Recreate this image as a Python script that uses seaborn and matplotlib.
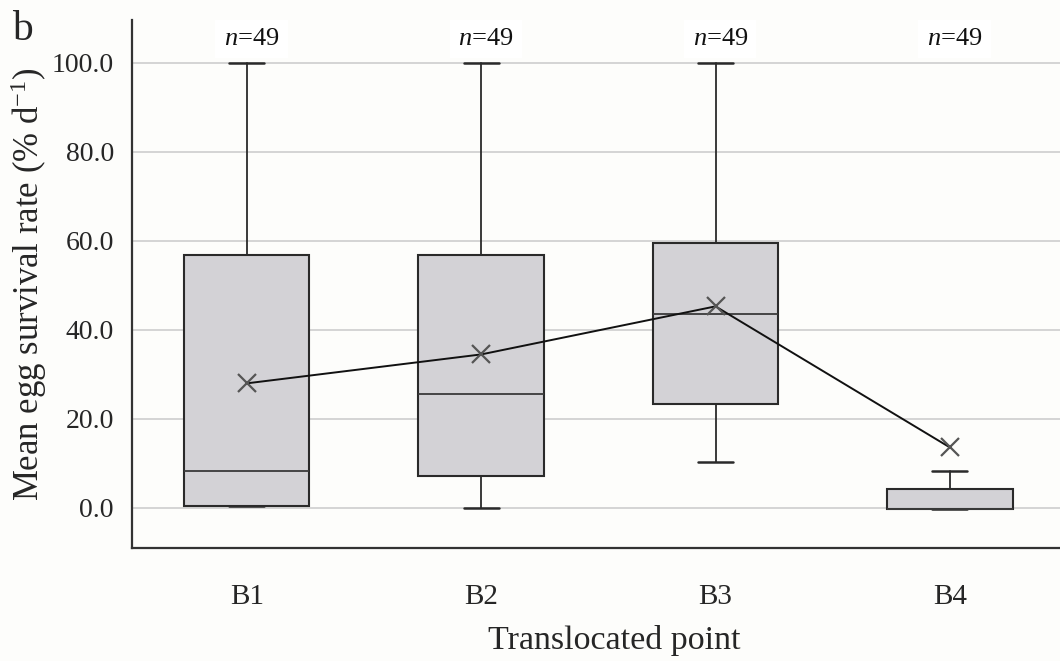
import numpy as np
import pandas as pd
import matplotlib
matplotlib.use("Agg")
import matplotlib.pyplot as plt
import seaborn as sns

# Summary statistics per translocated point (% d^-1)
points = ["B1", "B2", "B3", "B4"]
whisker_low = [0.5, 0.0, 10.3, -0.2]
q1 = [0.5, 7.1, 23.4, -0.2]
median = [8.3, 25.7, 43.6, -0.2]
q3 = [56.8, 56.8, 59.5, 4.3]
whisker_high = [100.0, 100.0, 100.0, 8.2]
means = [28.0, 34.5, 45.3, 13.6]
n_obs = [49, 49, 49, 49]
y_ticks = [0.0, 20.0, 40.0, 60.0, 80.0, 100.0]

sns.set_theme(style="white")
plt.rcParams["font.family"] = ["Liberation Serif", "DejaVu Serif"]
plt.rcParams["mathtext.fontset"] = "custom"
plt.rcParams["mathtext.it"] = "Liberation Serif:italic"
plt.rcParams["mathtext.rm"] = "Liberation Serif"

bg = "#fdfdfb"
fig = plt.figure(figsize=(10.6, 6.61), dpi=100, facecolor=bg)
ax = fig.add_axes([0.1245, 0.171, 0.8755, 0.799])
ax.set_facecolor(bg)

stats = [
    dict(label=p, whislo=wl, q1=a, med=m, q3=b, whishi=wh, fliers=[])
    for p, wl, a, m, b, wh in zip(points, whisker_low, q1, median, q3, whisker_high)
]
ax.bxp(
    stats,
    positions=np.arange(len(points)),
    widths=0.535,
    patch_artist=True,
    showfliers=False,
    boxprops=dict(facecolor="#d3d2d6", edgecolor="#2a2a2a", linewidth=1.5),
    medianprops=dict(color="#3a3a3a", linewidth=1.3),
    whiskerprops=dict(color="#2a2a2a", linewidth=1.3),
    capprops=dict(color="#2a2a2a", linewidth=1.8),
    capwidths=0.15,
    zorder=3,
)

# Mean values joined by a line
mean_df = pd.DataFrame({"point": points, "mean": means})
sns.pointplot(
    data=mean_df, x="point", y="mean", ax=ax,
    color="#111111", markers="x", linestyles="-",
    errorbar=None, markersize=13, linewidth=1.4,
    native_scale=False,
)
for line in ax.lines[-1:]:
    line.set_zorder(5)
    line.set_markeredgecolor("#555555")
    line.set_markeredgewidth(1.6)

# Sample-size labels
for i, n in enumerate(n_obs):
    ax.text(i + 0.02, 105.4, f"$n$={n}", ha="center", va="center",
            fontsize=19, color="#111111", zorder=6,
            bbox=dict(facecolor="white", edgecolor="none", pad=6))

ax.set_xlim(-0.49, 3.47)
ax.set_ylim(-9.0, 109.7)
ax.set_yticks(y_ticks)
ax.set_yticklabels([f"{v:.1f}" for v in y_ticks], fontsize=20)
ax.set_xticks(np.arange(len(points)))
ax.set_xticklabels(points, fontsize=21)
ax.tick_params(axis="y", length=0, pad=13)
ax.tick_params(axis="x", length=0, pad=26)
ax.yaxis.grid(True, color="#d4d4d4", linewidth=1.4, zorder=0)
ax.xaxis.grid(False)
ax.set_axisbelow(True)

for side in ["top", "right"]:
    ax.spines[side].set_visible(False)
for side in ["left", "bottom"]:
    ax.spines[side].set_color("#333333")
    ax.spines[side].set_linewidth(1.6)

ax.set_xlabel("Translocated point", fontsize=24.5)
ax.xaxis.set_label_coords(0.52, -0.146)
ax.xaxis.label.set_va("top")
ax.set_ylabel("Mean egg survival rate (% d$^{-1}$)", fontsize=25, labelpad=2)

fig.text(0.011, 0.955, "b", fontsize=30, ha="left", va="center")

fig.savefig("out.png", dpi=100, facecolor=bg)
